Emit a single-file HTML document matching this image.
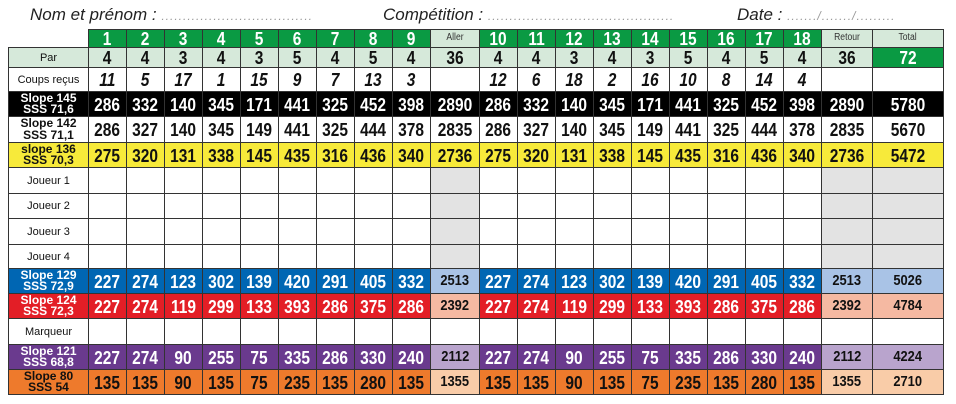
<!DOCTYPE html>
<html><head><meta charset="utf-8"><style>
body{margin:0;width:956px;height:404px;background:#fff;overflow:hidden;font-family:"Liberation Sans",sans-serif}
#title{position:absolute;top:5px;left:0;width:956px;height:24px;font-style:italic;font-size:17px;color:#222}
#title span{position:absolute;top:0}
.dots{color:#999;font-size:12px;letter-spacing:1px}
table{position:absolute;left:8px;top:29px;border-collapse:collapse;table-layout:fixed}
td{border:1px solid #333;padding:0;text-align:center;font-weight:bold;font-size:18px;line-height:16px;color:#111;overflow:hidden;white-space:nowrap}
td span.n{display:inline-block;transform:scaleX(0.86);vertical-align:middle}
td.lab{font-weight:normal;font-size:11px;line-height:10.5px}
td.lab b{font-size:12px}
</style></head><body>
<div id="title">
<span style="left:30px">Nom et prénom : <span class="dots" style="position:static">...................................</span></span>
<span style="left:383px">Compétition : <span class="dots" style="position:static">...........................................</span></span>
<span style="left:737px">Date : <span class="dots" style="position:static">......./......./.........</span></span>
</div>
<table id="card"></table>
<script>
const holes=["1","2","3","4","5","6","7","8","9","Aller","10","11","12","13","14","15","16","17","18","Retour","Total"];
const par=["4","4","3","4","3","5","4","5","4","36","4","4","3","4","3","5","4","5","4","36","72"];
const coups=["11","5","17","1","15","9","7","13","3","","12","6","18","2","16","10","8","14","4","",""];
const black=["286","332","140","345","171","441","325","452","398","2890","286","332","140","345","171","441","325","452","398","2890","5780"];
const white=["286","327","140","345","149","441","325","444","378","2835","286","327","140","345","149","441","325","444","378","2835","5670"];
const yellow=["275","320","131","338","145","435","316","436","340","2736","275","320","131","338","145","435","316","436","340","2736","5472"];
const blue=["227","274","123","302","139","420","291","405","332","2513","227","274","123","302","139","420","291","405","332","2513","5026"];
const red=["227","274","119","299","133","393","286","375","286","2392","227","274","119","299","133","393","286","375","286","2392","4784"];
const purple=["227","274","90","255","75","335","286","330","240","2112","227","274","90","255","75","335","286","330","240","2112","4224"];
const orange=["135","135","90","135","75","235","135","280","135","1355","135","135","90","135","75","235","135","280","135","1355","2710"];
const widths=[80,38,38,38,38,38,38,38,38,38,49,38,38,38,38,38,38,38,38,38,51,71];
const t=document.getElementById('card');
const cg=document.createElement('colgroup');t.appendChild(cg);
widths.forEach(w=>{const c=document.createElement('col');c.style.width=w+'px';cg.appendChild(c);});
t.style.width=widths.reduce((a,b)=>a+b,0)+'px';
const rows=[
 {name:'hole-number-row',label:'',vals:holes,h:17,bg:'#0a9a43',fg:'#fff',sub:'#d6e9da',subfg:'#333'},
 {name:'par-row',label:'Par',vals:par,h:20,bg:'#d6e9da',fg:'#111',sub:'#d6e9da',subfg:'#111',lbg:'#d6e9da',tot:'#0a9a43',totfg:'#fff'},
 {name:'handicap-row',label:'Coups reçus',vals:coups,h:24,bg:'#fff',fg:'#111',sub:'#fff',subfg:'#111',it:true},
 {name:'slope-145-row',label:'<b>Slope 145<br>SSS 71,6</b>',vals:black,h:25,bg:'#000',fg:'#fff',sub:'#000',subfg:'#fff',lbg:'#000',lfg:'#fff'},
 {name:'slope-142-row',label:'<b>Slope 142<br>SSS 71,1</b>',vals:white,h:26,bg:'#fff',fg:'#111',sub:'#fff',subfg:'#111'},
 {name:'slope-136-row',label:'<b>slope 136<br>SSS 70,3</b>',vals:yellow,h:25,bg:'#f7ea3a',fg:'#111',sub:'#f7ea3a',subfg:'#111',lbg:'#f7ea3a'},
 {name:'player-1-row',label:'Joueur 1',vals:null,h:26},
 {name:'player-2-row',label:'Joueur 2',vals:null,h:25},
 {name:'player-3-row',label:'Joueur 3',vals:null,h:26},
 {name:'player-4-row',label:'Joueur 4',vals:null,h:24},
 {name:'slope-129-row',label:'<b>Slope 129<br>SSS 72,9</b>',vals:blue,h:25,bg:'#0066b3',fg:'#fff',sub:'#a9c3e6',subfg:'#111',lbg:'#0066b3',lfg:'#fff'},
 {name:'slope-124-row',label:'<b>Slope 124<br>SSS 72,3</b>',vals:red,h:25,bg:'#e31e26',fg:'#fff',sub:'#f5b9a2',subfg:'#111',lbg:'#e31e26',lfg:'#fff'},
 {name:'marker-row',label:'Marqueur',vals:null,h:26,white:true},
 {name:'slope-121-row',label:'<b>Slope 121<br>SSS 68,8</b>',vals:purple,h:25,bg:'#6a3a8e',fg:'#fff',sub:'#b9a4cd',subfg:'#111',lbg:'#6a3a8e',lfg:'#fff'},
 {name:'slope-80-row',label:'<b>Slope 80<br>SSS 54</b>',vals:orange,h:25,bg:'#ee7a2c',fg:'#111',sub:'#f9cca8',subfg:'#111',lbg:'#ee7a2c'}
];
rows.forEach((r,ri)=>{
 const tr=document.createElement('tr');
 
 
 tr.style.height=r.h+'px';
 const l=document.createElement('td');
 l.className='lab';l.innerHTML=r.label;
 
 
 if(ri===0)l.style.border='none';
 if(r.lbg)l.style.background=r.lbg;
 if(r.lfg)l.style.color=r.lfg;
 tr.appendChild(l);
 for(let i=0;i<21;i++){
  const c=document.createElement('td');
  const isSub=(i===9||i===19||i===20);
  
  if(r.vals){
   
   const s=document.createElement('span');
   s.className='n';
   s.textContent=r.vals[i];
   c.appendChild(s);
   c.style.background=isSub?r.sub:r.bg;
   c.style.color=isSub?r.subfg:r.fg;
   if(r.it&&!isSub)c.style.fontStyle='italic';
   if(ri===0&&isSub){c.style.fontWeight='normal';c.style.fontSize='10px';}
   if(isSub&&ri>2&&r.sub!==r.bg){c.style.fontSize='15px';}
   if(ri===1&&i===20){c.style.background=r.tot;c.style.color=r.totfg;}
   if(ri===0&&i===20){c.style.background='#d6e9da';}
  }else{
   
   c.style.background=(isSub&&!r.white)?'#e3e3e3':'#fff';
  }
  tr.appendChild(c);
 }
 t.appendChild(tr);
});
</script>
</body></html>
